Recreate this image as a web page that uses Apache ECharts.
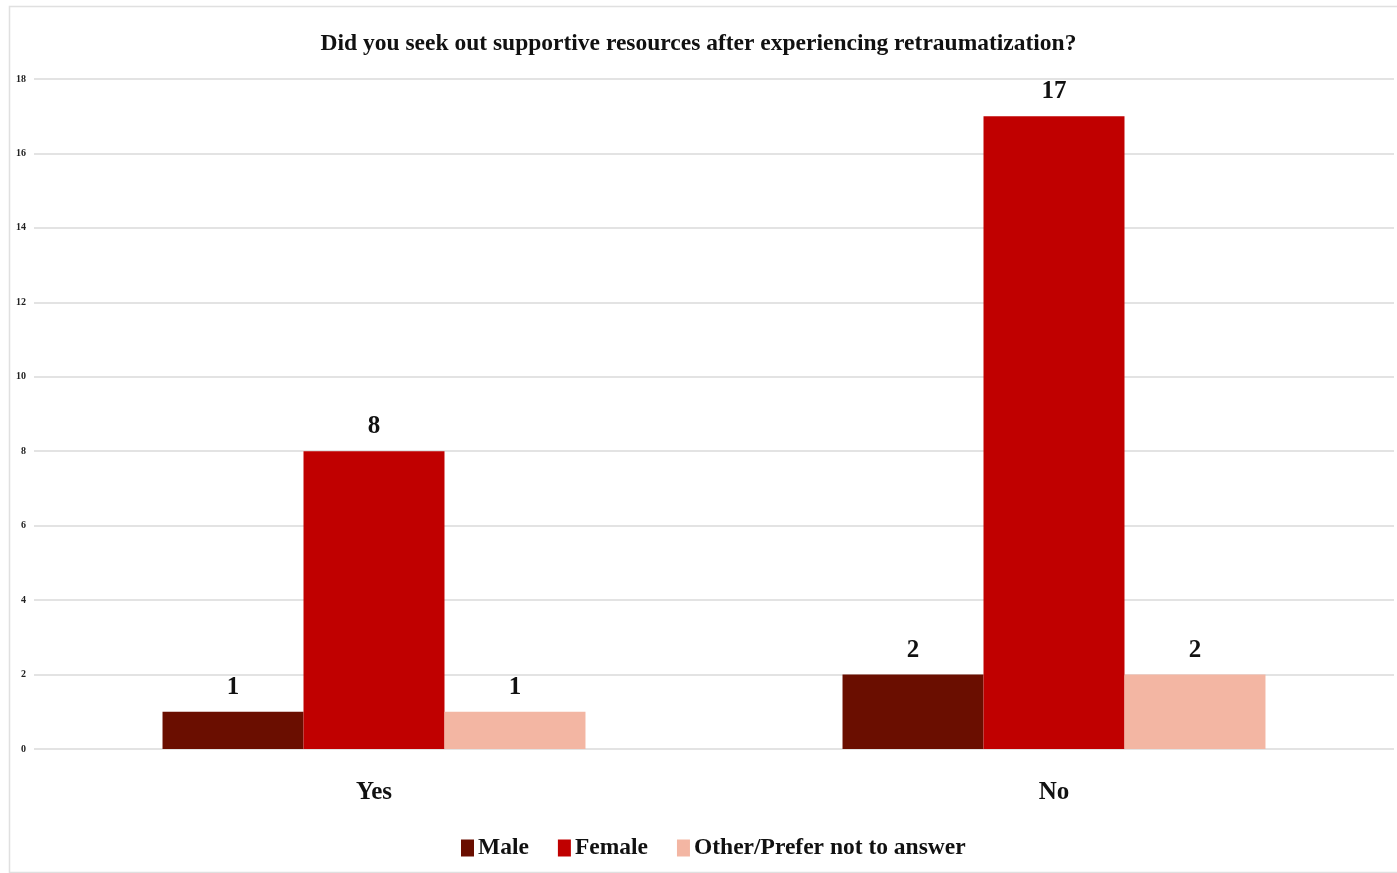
<!DOCTYPE html>
<html>
<head>
<meta charset="utf-8">
<style>
  html, body { margin: 0; padding: 0; background: #ffffff; }
  #chart { width: 1397px; height: 873px; }
</style>
<script src="https://cdn.jsdelivr.net/npm/echarts@6/dist/echarts.min.js"></script>
</head>
<body>
<div id="chart"></div>
<script>
// Survey answers split by gender
const categories = ['Yes', 'No'];
const seriesNames = ['Male', 'Female', 'Other/Prefer not to answer'];
const maleValues = [1, 2];
const femaleValues = [8, 17];
const otherValues = [1, 2];
const yTicks = { min: 0, max: 18, interval: 2 };

const colors = ['#6A0E00', '#C00000', '#F3B6A3'];
const serif = '"Liberation Serif", "Times New Roman", serif';

const chart = echarts.init(document.getElementById('chart'), null, { renderer: 'canvas' });

function barSeries(name, values, color) {
  return {
    name: name,
    type: 'bar',
    data: values,
    barGap: '0%',
    barCategoryGap: '37.8%',
    itemStyle: { color: color },
    label: {
      show: true,
      position: 'top',
      distance: 12,
      fontFamily: serif,
      fontWeight: 'bold',
      fontSize: 25,
      color: '#111'
    }
  };
}

chart.setOption({
  backgroundColor: '#ffffff',
  animation: false,
  title: {
    text: 'Did you seek out supportive resources after experiencing retraumatization?',
    left: 'center',
    top: 27,
    textStyle: { fontFamily: serif, fontWeight: 'bold', fontSize: 23.5, color: '#111' }
  },
  legend: {
    bottom: 8,
    left: 456,
    itemWidth: 13,
    itemHeight: 17,
    itemGap: 29,
    icon: 'rect',
    textStyle: { fontFamily: serif, fontWeight: 'bold', fontSize: 23.5, color: '#111', padding: [0, 0, 0, -1] },
    data: seriesNames
  },
  grid: { left: 34, right: 3, top: 79, bottom: 124, containLabel: false },
  xAxis: {
    type: 'category',
    data: categories,
    axisLine: { show: false },
    axisTick: { show: false },
    axisLabel: { margin: 31, fontFamily: serif, fontWeight: 'bold', fontSize: 25, color: '#111' }
  },
  yAxis: {
    type: 'value',
    min: yTicks.min,
    max: yTicks.max,
    interval: yTicks.interval,
    axisLine: { show: false },
    axisTick: { show: false },
    axisLabel: { margin: 8, fontFamily: serif, fontWeight: 'bold', fontSize: 10, color: '#222' },
    splitLine: { lineStyle: { color: '#dadada', width: 1.5 } }
  },
  graphic: [{
    type: 'rect',
    left: 7, top: 4,
    shape: { width: 1400, height: 866 },
    style: { fill: 'none', stroke: '#e0e0e0', lineWidth: 1.5 },
    silent: true,
    z: -1
  }],
  series: [
    barSeries(seriesNames[0], maleValues, colors[0]),
    barSeries(seriesNames[1], femaleValues, colors[1]),
    barSeries(seriesNames[2], otherValues, colors[2])
  ]
});
</script>
</body>
</html>
